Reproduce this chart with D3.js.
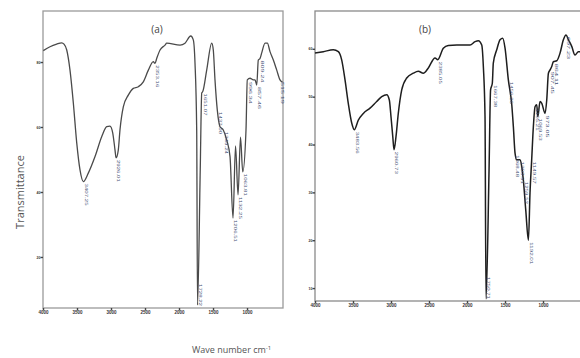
<!DOCTYPE html>
<html><head><meta charset="utf-8">
<script src="https://cdn.jsdelivr.net/npm/d3@7"></script>
<style>body{margin:0;background:#fff}svg{display:block}</style>
</head><body><svg id="c" width="580" height="358"></svg>
<script>
// Panel (a) spectrum: [wavenumber cm-1, transmittance]
const specA = [[3996,83.5],[3897,84.7],[3799,85.5],[3725,85.9],[3691,85.5],[3651,83.7],[3603,77.5],[3554,67.4],[3504,55.1],[3456,46.8],[3407,43.2],[3334,45.8],[3235,50.9],[3137,57.0],[3063,60.1],[3015,60.3],[2975,58.2],[2941,52.9],[2926,50.5],[2893,52.9],[2868,59.1],[2819,66.2],[2746,69.8],[2672,71.9],[2599,72.4],[2525,73.9],[2451,77.5],[2378,80.1],[2353,79.6],[2328,81.1],[2279,83.7],[2206,85.2],[2181,85.8],[1985,85.2],[1912,85.8],[1828,88.0],[1790,86.8],[1765,79.7],[1740,59.1],[1728,5.2],[1688,46.8],[1666,70.5],[1651,70.9],[1593,77.5],[1519,85.8],[1496,83.7],[1471,74.5],[1437,65.2],[1397,60.1],[1349,59.1],[1299,56.0],[1250,50.9],[1206,32.0],[1169,54.2],[1132,39.1],[1096,56.9],[1063,46.2],[1015,59.1],[996,74.5],[956,75.0],[907,74.5],[882,74.5],[857,72.9],[834,80.6],[809,81.1],[784,82.8],[735,85.8],[701,85.8],[662,83.2],[613,80.6],[563,77.5],[515,74.5],[478,73.8]];
// Panel (b) spectrum
const specB = [[4000,59.1],[3891,59.4],[3759,59.8],[3693,59.4],[3649,57.7],[3605,53.5],[3562,48.6],[3517,44.5],[3483,43.1],[3430,45.1],[3364,46.5],[3276,47.6],[3188,49.0],[3122,50.0],[3056,50.4],[3022,49.3],[3000,45.8],[2977,41.7],[2960,38.9],[2934,41.7],[2904,46.5],[2859,51.4],[2793,53.9],[2706,54.9],[2641,55.3],[2575,54.9],[2509,56.0],[2421,58.1],[2385,57.7],[2312,60.1],[2246,60.7],[2135,60.8],[1960,60.8],[1894,61.5],[1851,61.7],[1806,60.8],[1785,56.3],[1763,45.8],[1750,7.7],[1710,34.7],[1690,51.4],[1667,52.8],[1654,57.0],[1609,59.8],[1565,61.9],[1530,62.2],[1500,60.2],[1456,53.5],[1411,48.3],[1390,43.7],[1368,38.2],[1346,36.8],[1303,36.8],[1280,35.4],[1259,32.6],[1227,26.3],[1192,20.0],[1171,29.9],[1149,36.8],[1127,43.7],[1105,47.9],[1082,48.3],[1069,45.8],[1039,49.0],[1016,48.6],[973,46.5],[951,49.3],[929,54.9],[907,55.6],[885,56.3],[864,57.3],[819,57.5],[776,59.1],[732,61.9],[697,62.9],[666,61.9],[622,60.5],[579,58.7],[535,59.4],[500,59.4]];
// Peak annotations
const peaksA = ["3407.25","2926.01","2353.16","1728.22","1651.07","1437.00","1349.24","1206.51","1132.25","1063.81","996.34","857.46","809.24","515.19"];
const peaksB = ["3483.56","2960.73","2385.05","1750.71","1667.38","1456.26","1368.48","1303.91","1259.52","1192.01","1149.57","1105.21","1069.53","973.05","907.45","864.11","697.23"];
const xTicks = [4000,3500,3000,2500,2000,1500,1000];
const yTicksA = [20,40,60,80];
const yTicksB = [10,20,30,40,50,60];
const titles = ["(a)","(b)"];
const yTitle = "Transmittance";
const xTitle = "Wave number cm";

const svg = d3.select("#c");

function panel(spec, peaks, cfg){
  const x = d3.scaleLinear().domain(cfg.xd).range(cfg.xr);
  const y = d3.scaleLinear().domain(cfg.yd).range(cfg.yr);
  const g = svg.append("g");
  g.append("rect").attr("x",cfg.xr[0]).attr("y",cfg.yr[1])
    .attr("width",cfg.xr[1]-cfg.xr[0]).attr("height",cfg.yr[0]-cfg.yr[1])
    .attr("fill","none").attr("stroke",cfg.frame).attr("stroke-width",1.3);
  const xa = g.append("g").attr("transform",`translate(0,${cfg.yr[0]})`)
    .call(d3.axisBottom(x).tickValues(xTicks).tickFormat(d3.format("d")).tickSize(2.5).tickSizeOuter(0).tickPadding(0));
  xa.select(".domain").remove();
  xa.selectAll("line").attr("stroke","#444").attr("stroke-width",1.4);
  xa.selectAll("text").attr("font-size",4.5).attr("fill","#333").attr("font-weight","bold").attr("font-family","Liberation Sans");
  const ya = g.append("g").attr("transform",`translate(${cfg.xr[0]},0)`)
    .call(d3.axisLeft(y).tickValues(cfg.yt).tickSize(2.5).tickSizeOuter(0).tickPadding(0));
  ya.select(".domain").remove();
  ya.selectAll("line").attr("stroke","#444").attr("stroke-width",1.4);
  ya.selectAll("text").attr("font-size",3.5).attr("fill","#333").attr("font-weight","bold").attr("font-family","Liberation Sans");
  g.append("path").datum(spec)
    .attr("d", d3.line().x(d=>x(d[0])).y(d=>y(d[1])).curve(d3.curveMonotoneX))
    .attr("fill","none").attr("stroke",cfg.line).attr("stroke-width",cfg.lw).attr("stroke-linejoin","round");
  // peak labels, vertical, under each band
  peaks.forEach(p=>{
    const wn = +p;
    let best = spec[0];
    spec.forEach(d=>{ if (Math.abs(d[0]-wn) < Math.abs(best[0]-wn)) best = d; });
    const px = x(best[0]), py = Math.min(y(best[1])+2, cfg.yr[0]-24);
    g.append("text").attr("transform",`translate(${px+1.3},${py}) rotate(90)`)
      .attr("font-size",4.3).attr("fill","#3e4c72").attr("font-family","Liberation Sans")
      .attr("textLength",22).attr("lengthAdjust","spacingAndGlyphs")
      .text(p);
  });
  g.append("text").attr("x",cfg.tx).attr("y",33).attr("text-anchor","middle")
    .attr("font-size",10).attr("fill","#444").attr("font-family","Open Sans").text(cfg.title);
}

panel(specA, peaksA, {xd:[4000,471], xr:[43,283], yd:[4.3,95.7], yr:[308,11], yt:yTicksA,
  frame:"#9a9a9a", line:"#4a4a4a", lw:1.3, tx:157, title:titles[0]});
panel(specB, peaksB, {xd:[4000,487], xr:[315,582], yd:[7.3,67.9], yr:[301,11], yt:yTicksB,
  frame:"#8a8a8a", line:"#1e1e1e", lw:1.5, tx:425, title:titles[1]});

svg.append("text").attr("transform","translate(24,192) rotate(-90)").attr("text-anchor","middle")
  .attr("font-size",11).attr("fill","#555").attr("font-family","Open Sans").text(yTitle);
const xt = svg.append("text").attr("x",192).attr("y",353)
  .attr("font-size",9).attr("fill","#555").attr("font-family","Open Sans");
xt.append("tspan").text(xTitle);
xt.append("tspan").attr("dy",-3).attr("font-size",6).text("-1");
</script></body></html>
